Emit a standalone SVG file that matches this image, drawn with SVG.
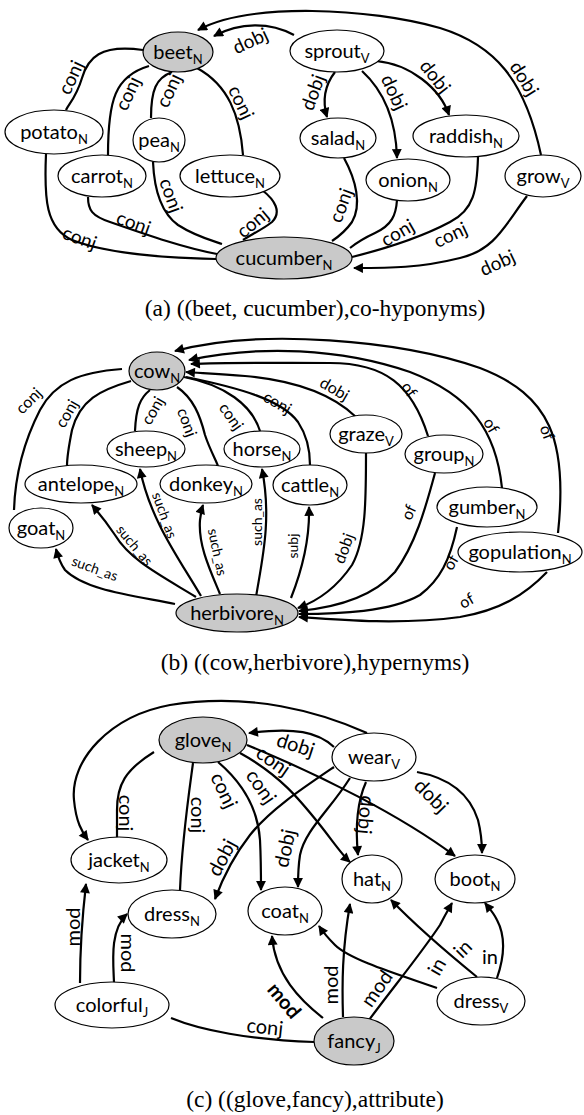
<svg xmlns="http://www.w3.org/2000/svg" width="584" height="1115" viewBox="0 0 584 1115">
<defs>
<marker id="ah" viewBox="0 0 10 10" refX="9" refY="5" markerWidth="5" markerHeight="4.5" orient="auto" markerUnits="strokeWidth"><path d="M0,0 L10,5 L0,10 z" fill="#000"/></marker>
<style>
.nd ellipse{fill:#fff;stroke:#000;stroke-width:1.2}
.nd.g ellipse{fill:#c9c9c9}
.nd text{font-family:Lato,"Open Sans",sans-serif;font-size:20px;text-anchor:middle;fill:#000}
.nd tspan{font-size:13px}
#edges path{fill:none;stroke:#000;stroke-width:2.2}
#edges path.ar{marker-end:url(#ah)}
.lb{font-family:Lato,"Open Sans",sans-serif;text-anchor:middle;dominant-baseline:central;fill:#000}
.la{font-size:19px}
.lbb{font-size:16px}
.ls{font-size:14px}
.lc{font-size:20px}
.bold{font-weight:bold}
.cap{font-family:"Liberation Serif","Times New Roman",serif;font-size:23.5px;text-anchor:middle;fill:#000}
</style>
</defs>
<rect width="584" height="1115" fill="#fff"/>

<g id="edges">
<!-- panel a -->
<path class="ar" d="M294,35 C270,22 240,22 214,36"/>
<path class="ar" d="M541,155 C525,80 495,45 440,28 C370,8 250,2 198,30"/>
<path class="ar" d="M335,72 C325,85 322,100 327,117"/>
<path class="ar" d="M362,71 C385,92 396,120 397,158"/>
<path class="ar" d="M376,61 C410,64 440,88 449,115"/>
<path d="M143,50 C100,44 88,58 82,78 C76,98 68,105 66,110"/>
<path d="M149,66 C115,76 108,100 108,155"/>
<path d="M172,72 C156,78 151,90 151,118"/>
<path d="M197,68 C228,85 240,115 243,155"/>
<path d="M46,154 C44,200 46,228 72,240 C110,255 170,258 216,259"/>
<path d="M88,197 C88,210 92,216 110,222 C150,236 185,248 217,254"/>
<path d="M153,162 C154,185 160,212 178,225 C195,236 210,240 222,244"/>
<path d="M262,190 C275,200 282,212 272,222 C262,230 250,235 243,240"/>
<path d="M344,158 C356,180 362,205 352,222 C345,232 338,237 332,241"/>
<path d="M397,200 C396,215 392,225 375,233 C362,239 355,244 350,248"/>
<path d="M478,157 C477,190 474,210 450,222 C420,238 380,250 352,257"/>
<path class="ar" d="M527,196 C505,225 495,250 460,258 C420,268 390,268 354,268"/>
<!-- panel b -->
<path class="ar" d="M558,533 C568,440 550,395 480,368 C400,340 260,328 175,351"/>
<path class="ar" d="M502,488 C496,430 470,395 410,372 C340,348 260,345 189,360"/>
<path class="ar" d="M428,436 C412,385 385,363 330,363 C280,363 230,362 191,364"/>
<path class="ar" d="M356,417 C330,392 290,380 245,376 C220,374 200,373 186,372"/>
<path d="M186,377 C240,388 282,400 298,422 C308,437 310,452 310,465"/>
<path d="M184,377 C225,385 252,405 260,431"/>
<path d="M177,387 C193,398 200,415 205,435 C210,450 216,460 218,466"/>
<path d="M150,390 C140,398 136,408 135,431"/>
<path d="M131,381 C100,390 80,400 72,430 C68,450 67,460 67,466"/>
<path d="M122,369 C80,372 55,382 40,410 C22,445 15,480 14,510"/>
<path class="ar" d="M175,604 C130,595 85,590 65,570 C60,563 58,557 56,549"/>
<path class="ar" d="M196,597 C160,575 130,560 115,535 C105,520 98,512 92,505"/>
<path class="ar" d="M201,596 C180,560 150,520 140,469"/>
<path class="ar" d="M220,594 C210,570 198,545 200,520 C201,512 202,508 203,505"/>
<path class="ar" d="M256,597 C262,560 272,520 262,469"/>
<path class="ar" d="M291,598 C302,570 310,540 309,507"/>
<path class="ar" d="M366,453 C366,500 366,540 352,565 C335,590 315,602 298,608"/>
<path class="ar" d="M435,473 C425,510 415,545 395,572 C370,600 330,608 299,611"/>
<path class="ar" d="M457,527 C450,560 440,580 420,595 C390,612 340,614 299,614"/>
<path class="ar" d="M547,572 C525,595 500,610 460,617 C400,625 340,620 299,617"/>
<!-- panel c -->
<path class="ar" d="M367,733 C320,712 250,692 170,705 C110,716 70,760 74,800 C76,822 82,832 88,840"/>
<path class="ar" d="M334,747 C318,732 295,727 249,733"/>
<path class="ar" d="M417,772 C450,778 470,795 478,820 C481,832 482,840 482,853"/>
<path class="ar" d="M366,782 C358,800 355,825 358,855"/>
<path class="ar" d="M350,778 C330,810 305,830 300,855 C298,868 298,878 298,887"/>
<path class="ar" d="M334,767 C300,790 270,810 250,835 C232,858 222,880 215,899"/>
<path d="M154,752 C125,770 117,785 117,810 L117,838"/>
<path d="M193,763 C188,800 182,840 180,890"/>
<path class="ar" d="M218,762 C245,785 258,810 260,840 C261,860 261,875 261,890"/>
<path class="ar" d="M240,753 C280,775 300,800 320,825 C332,840 342,855 350,862"/>
<path class="ar" d="M247,745 C320,775 400,815 455,856"/>
<path class="ar" d="M80,983 C80,950 83,910 86,884"/>
<path class="ar" d="M114,982 C113,960 110,930 127,914"/>
<path d="M171,1018 C200,1030 250,1040 314,1042"/>
<path class="ar" d="M323,1018 C300,1000 275,975 272,936"/>
<path class="ar" d="M343,1017 C342,985 342,950 350,904"/>
<path class="ar" d="M369,1020 C395,985 420,955 440,925 C445,915 448,910 452,903"/>
<path class="ar" d="M437,988 C400,975 350,960 335,945 C328,938 323,932 319,926"/>
<path class="ar" d="M477,977 C450,955 420,930 391,900"/>
<path class="ar" d="M497,978 C505,955 505,935 497,920 C493,912 489,908 485,903"/>
</g>

<g id="edge-labels">
<!-- a -->
<text class="lb la" transform="translate(250,40) rotate(-25)">dobj</text>
<text class="lb la" transform="translate(525,78) rotate(58)">dobj</text>
<text class="lb la" transform="translate(312,92) rotate(-70)">dobj</text>
<text class="lb la" transform="translate(395,92) rotate(65)">dobj</text>
<text class="lb la" transform="translate(436,76) rotate(52)">dobj</text>
<text class="lb la" transform="translate(70,77) rotate(-65)">conj</text>
<text class="lb la" transform="translate(127,93) rotate(-65)">conj</text>
<text class="lb la" transform="translate(168,90) rotate(-65)">conj</text>
<text class="lb la" transform="translate(242,102) rotate(65)">conj</text>
<text class="lb la" transform="translate(80,237) rotate(20)">conj</text>
<text class="lb la" transform="translate(134,222) rotate(20)">conj</text>
<text class="lb la" transform="translate(172,195) rotate(70)">conj</text>
<text class="lb la" transform="translate(252,222) rotate(-40)">conj</text>
<text class="lb la" transform="translate(340,205) rotate(-70)">conj</text>
<text class="lb la" transform="translate(397,232) rotate(-30)">conj</text>
<text class="lb la" transform="translate(450,234) rotate(-25)">conj</text>
<text class="lb la" transform="translate(497,262) rotate(-25)">dobj</text>
<!-- b -->
<text class="lb lbb" transform="translate(548,432) rotate(70)">of</text>
<text class="lb lbb" transform="translate(492,425) rotate(60)">of</text>
<text class="lb lbb" transform="translate(410,389) rotate(55)">of</text>
<text class="lb lbb" transform="translate(335,388) rotate(30)">dobj</text>
<text class="lb lbb" transform="translate(278,402) rotate(30)">conj</text>
<text class="lb lbb" transform="translate(232,416) rotate(55)">conj</text>
<text class="lb lbb" transform="translate(188,422) rotate(70)">conj</text>
<text class="lb lbb" transform="translate(152,410) rotate(-60)">conj</text>
<text class="lb lbb" transform="translate(66,413) rotate(-60)">conj</text>
<text class="lb lbb" transform="translate(28,400) rotate(-45)">conj</text>
<text class="lb ls" transform="translate(95,568) rotate(20)">such_as</text>
<text class="lb ls" transform="translate(135,545) rotate(50)">such_as</text>
<text class="lb ls" transform="translate(165,515) rotate(70)">such_as</text>
<text class="lb ls" transform="translate(218,552) rotate(78)">such_as</text>
<text class="lb ls" transform="translate(256,522) rotate(-90)">such_as</text>
<text class="lb ls" transform="translate(292,546) rotate(-90)">subj</text>
<text class="lb lbb" transform="translate(343,548) rotate(-70)">dobj</text>
<text class="lb lbb" transform="translate(408,512) rotate(-65)">of</text>
<text class="lb lbb" transform="translate(450,562) rotate(-60)">of</text>
<text class="lb lbb" transform="translate(466,600) rotate(-30)">of</text>
<!-- c -->
<text class="lb lc" transform="translate(296,744) rotate(18)">dobj</text>
<text class="lb lc" transform="translate(432,795) rotate(45)">dobj</text>
<text class="lb lc" transform="translate(367,815) rotate(95)">dobj</text>
<text class="lb lc" transform="translate(284,848) rotate(-78)">dobj</text>
<text class="lb lc" transform="translate(221,857) rotate(-62)">dobj</text>
<text class="lb lc" transform="translate(127,813) rotate(90)">conj</text>
<text class="lb lc" transform="translate(199,815) rotate(90)">conj</text>
<text class="lb lc" transform="translate(225,790) rotate(65)">conj</text>
<text class="lb lc" transform="translate(262,786) rotate(55)">conj</text>
<text class="lb lc" transform="translate(274,760) rotate(35)">conj</text>
<text class="lb lc" transform="translate(72,927) rotate(-90)">mod</text>
<text class="lb lc" transform="translate(129,953) rotate(90)">mod</text>
<text class="lb lc" transform="translate(265,1026) rotate(6)">conj</text>
<text class="lb lc bold" transform="translate(285,1000) rotate(50)">mod</text>
<text class="lb lc" transform="translate(330,985) rotate(-90)">mod</text>
<text class="lb lc" transform="translate(376,988) rotate(-55)">mod</text>
<text class="lb lc" transform="translate(436,966) rotate(-60)">in</text>
<text class="lb lc" transform="translate(462,948) rotate(-45)">in</text>
<text class="lb lc" transform="translate(490,956)">in</text>
</g>

<!-- panel a nodes -->
<g id="beet" class="nd g"><ellipse cx="178" cy="52" rx="35" ry="20"/><text x="178" y="59">beet<tspan dy="5">N</tspan></text></g>
<g id="sprout" class="nd"><ellipse cx="337" cy="51" rx="47" ry="21"/><text x="337" y="58">sprout<tspan dy="5">V</tspan></text></g>
<g id="potato" class="nd"><ellipse cx="54" cy="132" rx="49" ry="22"/><text x="54" y="139">potato<tspan dy="5">N</tspan></text></g>
<g id="pea" class="nd"><ellipse cx="159" cy="140" rx="26" ry="22"/><text x="159" y="147">pea<tspan dy="5">N</tspan></text></g>
<g id="carrot" class="nd"><ellipse cx="102" cy="176" rx="44" ry="21"/><text x="102" y="183">carrot<tspan dy="5">N</tspan></text></g>
<g id="lettuce" class="nd"><ellipse cx="230" cy="176" rx="50" ry="21"/><text x="230" y="183">lettuce<tspan dy="5">N</tspan></text></g>
<g id="salad" class="nd"><ellipse cx="338" cy="138" rx="38" ry="20"/><text x="338" y="145">salad<tspan dy="5">N</tspan></text></g>
<g id="raddish" class="nd"><ellipse cx="466" cy="136" rx="53" ry="21"/><text x="466" y="143">raddish<tspan dy="5">N</tspan></text></g>
<g id="onion" class="nd"><ellipse cx="408" cy="180" rx="42" ry="21"/><text x="408" y="187">onion<tspan dy="5">N</tspan></text></g>
<g id="grow" class="nd"><ellipse cx="543" cy="176" rx="38" ry="21"/><text x="543" y="183">grow<tspan dy="5">V</tspan></text></g>
<g id="cucumber" class="nd g"><ellipse cx="284" cy="258" rx="68" ry="21"/><text x="284" y="265">cucumber<tspan dy="5">N</tspan></text></g>

<!-- panel b nodes -->
<g id="cow" class="nd g"><ellipse cx="157" cy="371" rx="28" ry="19"/><text x="157" y="378">cow<tspan dy="5">N</tspan></text></g>
<g id="sheep" class="nd"><ellipse cx="146" cy="449" rx="39" ry="18"/><text x="146" y="456">sheep<tspan dy="5">N</tspan></text></g>
<g id="horse" class="nd"><ellipse cx="262" cy="449" rx="38" ry="18"/><text x="262" y="456">horse<tspan dy="5">N</tspan></text></g>
<g id="antelope" class="nd"><ellipse cx="81" cy="484" rx="56" ry="19"/><text x="81" y="491">antelope<tspan dy="5">N</tspan></text></g>
<g id="donkey" class="nd"><ellipse cx="206" cy="484" rx="46" ry="19"/><text x="206" y="491">donkey<tspan dy="5">N</tspan></text></g>
<g id="cattle" class="nd"><ellipse cx="310" cy="485" rx="37" ry="20"/><text x="310" y="492">cattle<tspan dy="5">N</tspan></text></g>
<g id="graze" class="nd"><ellipse cx="366" cy="434" rx="36" ry="19"/><text x="366" y="441">graze<tspan dy="5">V</tspan></text></g>
<g id="group" class="nd"><ellipse cx="444" cy="454" rx="39" ry="19"/><text x="444" y="461">group<tspan dy="5">N</tspan></text></g>
<g id="gumber" class="nd"><ellipse cx="487" cy="507" rx="50" ry="20"/><text x="487" y="514">gumber<tspan dy="5">N</tspan></text></g>
<g id="goat" class="nd"><ellipse cx="41" cy="528" rx="32" ry="20"/><text x="41" y="535">goat<tspan dy="5">N</tspan></text></g>
<g id="gopulation" class="nd"><ellipse cx="520" cy="552" rx="62" ry="20"/><text x="520" y="559">gopulation<tspan dy="5">N</tspan></text></g>
<g id="herbivore" class="nd g"><ellipse cx="237" cy="613" rx="61" ry="19"/><text x="237" y="620">herbivore<tspan dy="5">N</tspan></text></g>

<!-- panel c nodes -->
<g id="glove" class="nd g"><ellipse cx="203" cy="740" rx="44" ry="23"/><text x="203" y="747">glove<tspan dy="5">N</tspan></text></g>
<g id="wear" class="nd"><ellipse cx="374" cy="757" rx="42" ry="24"/><text x="374" y="764">wear<tspan dy="5">V</tspan></text></g>
<g id="jacket" class="nd"><ellipse cx="119" cy="860" rx="48" ry="23"/><text x="119" y="867">jacket<tspan dy="5">N</tspan></text></g>
<g id="dressN" class="nd"><ellipse cx="172" cy="914" rx="44" ry="24"/><text x="172" y="921">dress<tspan dy="5">N</tspan></text></g>
<g id="coat" class="nd"><ellipse cx="285" cy="911" rx="37" ry="24"/><text x="285" y="918">coat<tspan dy="5">N</tspan></text></g>
<g id="hat" class="nd"><ellipse cx="372" cy="879" rx="30" ry="24"/><text x="372" y="886">hat<tspan dy="5">N</tspan></text></g>
<g id="boot" class="nd"><ellipse cx="475" cy="879" rx="40" ry="24"/><text x="475" y="886">boot<tspan dy="5">N</tspan></text></g>
<g id="colorful" class="nd"><ellipse cx="112" cy="1005" rx="57" ry="23"/><text x="112" y="1012">colorful<tspan dy="5">J</tspan></text></g>
<g id="dressV" class="nd"><ellipse cx="481" cy="1001" rx="44" ry="24"/><text x="481" y="1008">dress<tspan dy="5">V</tspan></text></g>
<g id="fancy" class="nd g"><ellipse cx="354" cy="1041" rx="40" ry="24"/><text x="354" y="1048">fancy<tspan dy="5">J</tspan></text></g>

<g id="captions">
<text class="cap" x="315" y="316">(a) ((beet, cucumber),co-hyponyms)</text>
<text class="cap" x="315" y="670">(b) ((cow,herbivore),hypernyms)</text>
<text class="cap" x="315" y="1107">(c) ((glove,fancy),attribute)</text>
</g>
</svg>
